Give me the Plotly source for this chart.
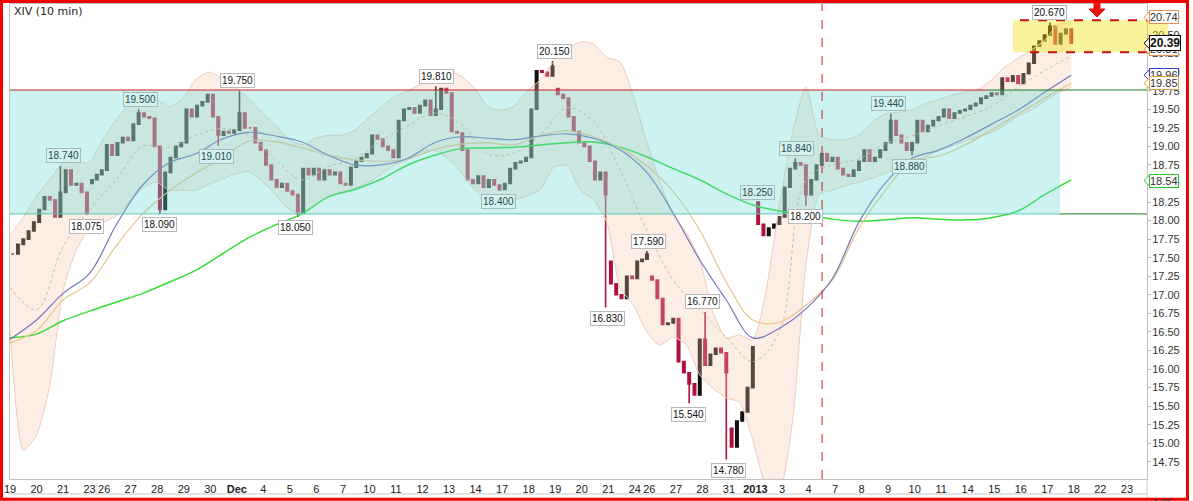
import plotly.graph_objects as go

# ---------------- calendar (x axis) ----------------
day_labels = ["19", "20", "21", "23", "26", "27", "28", "29", "30", "Dec", "4", "5", "6", "7",
              "10", "11", "12", "13", "14", "17", "18", "19", "20", "21", "24", "26", "27", "28",
              "31", "2013", "3", "4", "7", "8", "9", "10", "11", "14", "15", "16", "17", "18",
              "22", "23"]
half_days = [3, 24]          # Nov 23, Dec 24 (short sessions)
HALF_LEN = 0.55
bold_labels = ["Dec", "2013"]

# ---------------- price (10-min bars, sampled closes per session) ----------------
closes = [
    [17.55, 17.68, 17.75, 17.86, 17.98],   # Nov 19
    [18.15, 18.32, 18.28, 18.05, 18.38],   # Nov 20
    [18.68, 18.48, 18.50, 18.38, 18.10],   # Nov 21
    [18.55, 18.62, 18.68],                 # Nov 23
    [19.02, 18.88, 19.05, 19.12, 19.08],   # Nov 26
    [19.30, 19.45, 19.40, 19.38, 19.00],   # Nov 27
    [18.15, 18.65, 18.85, 19.00, 19.05],   # Nov 28
    [19.50, 19.40, 19.55, 19.60, 19.70],   # Nov 29
    [19.40, 19.15, 19.20, 19.18, 19.22],   # Nov 30
    [19.45, 19.25, 19.25, 19.05, 18.95],   # Dec 3
    [18.75, 18.55, 18.45, 18.50, 18.40],   # Dec 4
    [18.35, 18.10, 18.70, 18.62, 18.70],   # Dec 5
    [18.55, 18.68, 18.62, 18.65, 18.50],   # Dec 6
    [18.48, 18.72, 18.80, 18.85, 18.90],   # Dec 7
    [19.15, 19.10, 19.00, 18.95, 18.85],   # Dec 10
    [19.35, 19.50, 19.52, 19.45, 19.55],   # Dec 11
    [19.62, 19.42, 19.50, 19.78, 19.72],   # Dec 12
    [19.20, 19.18, 18.95, 18.55, 18.50],   # Dec 13
    [18.60, 18.45, 18.55, 18.48, 18.42],   # Dec 14
    [18.50, 18.70, 18.78, 18.80, 18.85],   # Dec 17
    [19.50, 20.02, 20.00, 19.95, 20.08],   # Dec 18
    [19.70, 19.65, 19.40, 19.20, 19.05],   # Dec 19
    [19.00, 18.80, 18.55, 18.65, 18.35],   # Dec 20
    [17.15, 17.00, 16.95, 17.25, 17.22],   # Dec 21
    [17.45, 17.48, 17.55],                 # Dec 24
    [17.20, 16.95, 16.60, 16.62, 16.68],   # Dec 26
    [16.10, 15.95, 15.80, 15.65, 16.40],   # Dec 27
    [16.05, 16.20, 16.28, 16.22, 15.95],   # Dec 28
    [14.95, 15.30, 15.42, 15.75, 16.30],   # Dec 31
    [17.95, 17.80, 17.90, 17.95, 18.05],   # Jan 2
    [18.45, 18.70, 18.78, 18.75, 18.35],   # Jan 3
    [18.55, 18.75, 18.90, 18.80, 18.85],   # Jan 4
    [18.70, 18.62, 18.60, 18.68, 18.80],   # Jan 7
    [18.95, 18.80, 18.85, 18.95, 19.05],   # Jan 8
    [19.35, 19.15, 19.05, 18.95, 19.05],   # Jan 9
    [19.35, 19.20, 19.28, 19.35, 19.40],   # Jan 10
    [19.50, 19.38, 19.45, 19.48, 19.50],   # Jan 11
    [19.55, 19.58, 19.65, 19.68, 19.72],   # Jan 14
    [19.70, 19.92, 19.88, 19.95, 19.85],   # Jan 15
    [19.98, 20.12, 20.35, 20.42, 20.50],   # Jan 16
    [20.62, 20.38, 20.52, 20.58, 20.39],   # Jan 17
]
gap_opens = {3: 18.50, 21: 19.78, 23: 17.45, 25: 17.25, 28: 15.20, 29: 18.25}

# ---------------- indicators ----------------
# Bollinger bands, sampled every half session
bb_upper = [17.80, 18.04, 18.33, 18.55, 18.78, 18.78, 18.79, 19.09, 19.36, 19.56,
            19.67, 19.64, 19.54, 19.64, 19.90, 20.00, 19.92, 19.79, 19.65, 19.46,
            19.29, 19.10, 19.02, 19.11, 19.15, 19.15, 19.22, 19.38, 19.53, 19.67,
            19.75, 19.85, 19.96, 20.02, 19.95, 19.79, 19.54, 19.49, 19.54, 19.75,
            19.90, 20.15, 20.30, 20.41, 20.38, 20.20, 20.14, 19.67, 19.06, 18.52,
            18.08, 17.83, 17.47, 16.76, 16.42, 16.46, 16.39, 17.06, 18.21, 19.19,
            19.80, 19.15, 19.09, 19.09, 19.15, 19.32, 19.44, 19.46, 19.49, 19.58,
            19.63, 19.69, 19.73, 19.77, 19.90, 20.07, 20.19, 20.30, 20.43, 20.64,
            20.68]
bb_lower = [16.53, 14.90, 15.11, 15.78, 17.06, 17.60, 17.90, 17.98, 18.06, 18.25,
            18.44, 18.52, 18.41, 18.41, 18.41, 18.49, 18.56, 18.63, 18.66, 18.53,
            18.35, 18.16, 18.09, 18.22, 18.32, 18.39, 18.44, 18.51, 18.63, 18.75,
            18.82, 18.92, 18.95, 18.84, 18.65, 18.42, 18.26, 18.21, 18.28, 18.33,
            18.42, 18.72, 18.74, 18.41, 18.28, 17.97, 17.09, 16.86, 16.50, 16.32,
            16.43, 16.32, 15.92, 15.74, 15.61, 15.55, 15.04, 14.44, 14.37, 15.31,
            17.40, 18.35, 18.41, 18.47, 18.52, 18.57, 18.64, 18.70, 18.79, 18.86,
            18.94, 19.00, 19.07, 19.13, 19.19, 19.29, 19.41, 19.49, 19.61, 19.72,
            19.80]
# one value per session step
bb_mid = [17.10, 16.80, 17.65, 18.15, 18.55, 19.00, 18.98, 19.15, 19.24, 19.15,
          18.82, 18.55, 18.73, 18.83, 19.08, 19.28, 19.45, 19.30, 18.90, 18.91,
          19.16, 19.52, 19.33, 18.68, 17.87, 17.20, 16.80, 16.43, 16.10, 16.50,
          18.55, 18.75, 18.83, 19.04, 19.14, 19.28, 19.40, 19.54, 19.80, 20.02,
          20.22]
ma_blue = [16.40, 16.66, 17.02, 17.29, 17.94, 18.48, 18.78, 18.90, 19.10, 19.19,
           19.14, 19.06, 18.88, 18.75, 18.75, 18.84, 19.05, 19.13, 19.11, 19.09,
           19.14, 19.17, 19.11, 18.95, 18.65, 18.10, 17.47, 16.93, 16.42, 16.55,
           16.81, 17.22, 17.98, 18.51, 18.84, 18.95, 19.11, 19.30, 19.49, 19.73,
           19.96]
ma_tan = [16.35, 16.52, 16.93, 17.16, 17.66, 18.09, 18.40, 18.64, 18.84, 19.07,
          19.06, 18.98, 18.88, 18.82, 18.80, 18.83, 18.96, 19.03, 19.05, 19.02,
          19.15, 19.21, 19.13, 18.98, 18.74, 18.39, 17.87, 17.17, 16.66, 16.63,
          16.86, 17.20, 17.90, 18.41, 18.80, 18.87, 19.02, 19.22, 19.44, 19.65,
          19.85]
ma_green = [16.42, 16.47, 16.65, 16.78, 16.90, 17.02, 17.17, 17.33, 17.55, 17.77,
            17.94, 18.09, 18.32, 18.42, 18.56, 18.75, 18.88, 18.97, 18.98, 18.99,
            19.02, 19.05, 19.06, 18.99, 18.86, 18.70, 18.55, 18.36, 18.21, 18.13,
            18.08, 18.02, 17.99, 18.01, 18.04, 18.02, 18.01, 18.04, 18.13, 18.35,
            18.55]

# swing labels: text, session time, side (+1 above high, -1 below low)
swing_text = ["18.740", "19.500", "19.750", "19.010", "18.075", "18.090", "18.050", "19.810",
              "18.400", "20.150", "16.830", "17.590", "16.770", "15.540", "14.780", "18.250",
              "18.840", "18.200", "19.440", "18.880", "20.670"]
swing_t = [2.00, 4.90, 8.56, 7.80, 2.90, 5.62, 10.78, 16.09, 18.43, 20.54, 22.54, 24.05,
           26.12, 25.59, 27.10, 28.16, 29.66, 29.97, 33.13, 33.92, 39.20]
swing_side = [1, 1, 1, -1, -1, -1, -1, 1, -1, 1, -1, 1, 1, -1, -1, 1, 1, -1, 1, -1, 1]

# levels
zone_top, zone_bot = 19.76, 18.09
zone_end_t = 39.58
red_end_t = 36.83
box_hi, box_lo = 20.70, 20.27
vline_t = 30.61
y_ticks = [14.75 + 0.25 * i for i in range(25)]
tag_text = ["20.31", "20.74", "20.39", "19.96", "19.85", "18.54"]
tag_vals = [20.31, 20.74, 20.39, 19.96, 19.85, 18.54]
tag_colors = ["#e8904a", "#e8904a", "#000000", "#3a3ac8", "#d8a040", "#30c030"]

# ---------------- geometry helpers ----------------
W, H = 1193, 501
PX_L, PX_R, PX_T, PX_B = 10, 1147, 4, 479
Y0, Y1 = 14.518, 20.919
X1 = (PX_R - PX_L) / 26.53


def pxx(x):
    return (x - PX_L) / (PX_R - PX_L)


def pxy(y):
    return (PX_B - y) / (PX_B - PX_T)


def vy(v):
    return (v - Y0) / (Y1 - Y0)


# session starts
starts, lens = [], []
t = 0.0
for i, lab in enumerate(day_labels):
    L = HALF_LEN if i in half_days else 1.0
    starts.append(t)
    lens.append(L)
    t += L

# build candles
xs, op, cl = [], [], []
prev = None
for d, vals in enumerate(closes):
    n = len(vals)
    for i, v in enumerate(vals):
        xs.append(starts[d] + lens[d] * (i + 0.5) / n)
        if i == 0 and d in gap_opens:
            o = gap_opens[d]
        elif prev is None:
            o = v
        else:
            o = prev
        op.append(o)
        cl.append(v)
        prev = v
hi = [max(a, b) for a, b in zip(op, cl)]
lo = [min(a, b) for a, b in zip(op, cl)]
for txt, st, sd in zip(swing_text, swing_t, swing_side):
    val = float(txt)
    idx = min(range(len(xs)), key=lambda k: abs(xs[k] - st))
    if sd > 0:
        hi[idx] = max(hi[idx], val)
    else:
        lo[idx] = min(lo[idx], val)

band_t = [0.5 * k for k in range(len(bb_upper))]
ma_t = [float(k) for k in range(len(ma_blue))]

fig = go.Figure()
fig.add_trace(go.Scatter(x=band_t, y=bb_lower, mode="lines", line=dict(color="#f0cdb8", width=1, shape="spline", smoothing=0.6),
                         hoverinfo="skip", showlegend=False))
fig.add_trace(go.Scatter(x=band_t, y=bb_upper, mode="lines", fill="tonexty", fillcolor="rgba(244,196,168,0.30)",
                         line=dict(color="#f0cdb8", width=1, shape="spline", smoothing=0.6),
                         hoverinfo="skip", showlegend=False))
fig.add_trace(go.Scatter(x=ma_t, y=bb_mid, mode="lines", line=dict(color="#e2b294", width=1, dash="dot", shape="spline"),
                         hoverinfo="skip", showlegend=False))
fig.add_trace(go.Scatter(x=ma_t, y=ma_green, mode="lines", line=dict(color="#33dd33", width=1.5, shape="spline"),
                         hoverinfo="skip", showlegend=False))
fig.add_trace(go.Scatter(x=ma_t, y=ma_tan, mode="lines", line=dict(color="#e8c58a", width=1.2, shape="spline"),
                         hoverinfo="skip", showlegend=False))
fig.add_trace(go.Scatter(x=ma_t, y=ma_blue, mode="lines", line=dict(color="#7474bc", width=1.2, shape="spline"),
                         hoverinfo="skip", showlegend=False))
fig.add_trace(go.Candlestick(x=xs, open=op, high=hi, low=lo, close=cl, whiskerwidth=0,
                             increasing=dict(line=dict(color="#111111", width=1.6), fillcolor="#111111"),
                             decreasing=dict(line=dict(color="#b0103c", width=1.6), fillcolor="#b0103c"),
                             hoverinfo="skip", showlegend=False))

shapes = []
# cyan zone overlay
shapes.append(dict(type="rect", xref="x", yref="y", x0=0, x1=zone_end_t, y0=zone_bot, y1=zone_top,
                   fillcolor="rgba(100,215,215,0.33)", line=dict(width=0), layer="above"))
shapes.append(dict(type="line", xref="x", yref="y", x0=0, x1=zone_end_t, y0=zone_bot, y1=zone_bot,
                   line=dict(color="#5cc8b8", width=1), layer="above"))
shapes.append(dict(type="line", xref="x", yref="y", x0=zone_end_t, x1=X1, y0=zone_bot, y1=zone_bot,
                   line=dict(color="#1f7a1f", width=1), layer="above"))
shapes.append(dict(type="line", xref="x", yref="y", x0=0, x1=red_end_t, y0=zone_top, y1=zone_top,
                   line=dict(color="#cc2020", width=1), layer="above"))
shapes.append(dict(type="line", xref="x", yref="y", x0=red_end_t, x1=X1, y0=zone_top, y1=zone_top,
                   line=dict(color="#1f7a1f", width=1), layer="above"))
# vertical dashed
shapes.append(dict(type="line", xref="x", yref="paper", x0=vline_t, x1=vline_t, y0=0, y1=1,
                   line=dict(color="#cc2020", width=1, dash="dash"), layer="above"))
# yellow box + dashed borders
shapes.append(dict(type="rect", xref="paper", yref="paper", x0=pxx(1013), x1=pxx(1168), y0=vy(box_lo), y1=vy(box_hi),
                   fillcolor="rgba(240,228,20,0.42)", line=dict(width=0), layer="above"))
shapes.append(dict(type="line", xref="paper", yref="paper", x0=pxx(1020), x1=pxx(1148), y0=vy(box_hi), y1=vy(box_hi),
                   line=dict(color="#cc1111", width=2, dash="dash"), layer="above"))
shapes.append(dict(type="line", xref="paper", yref="paper", x0=pxx(1030), x1=pxx(1148), y0=vy(box_lo), y1=vy(box_lo),
                   line=dict(color="#cc1111", width=2, dash="dash"), layer="above"))
# red arrow at top
ap = [(1094, 0), (1100, 0), (1100, 9), (1105, 9), (1097, 17), (1089, 9), (1094, 9)]
path = "M " + " L ".join(f"{pxx(a):.5f},{pxy(b):.5f}" for a, b in ap) + " Z"
shapes.append(dict(type="path", xref="paper", yref="paper", path=path, fillcolor="#ee1111",
                   line=dict(color="#ee1111", width=1), layer="above"))
# lower strip lines
shapes.append(dict(type="line", xref="paper", yref="paper", x0=0, x1=1, y0=pxy(494), y1=pxy(494),
                   line=dict(color="#c8c8c8", width=1)))
shapes.append(dict(type="line", xref="paper", yref="paper", x0=1, x1=1, y0=pxy(479), y1=pxy(501),
                   line=dict(color="#c8c8c8", width=1)))
# tag pointers
for v, col in zip(tag_vals, tag_colors):
    yc = vy(v)
    dy = 5.5 / (PX_B - PX_T)
    p = f"M {pxx(1144):.5f},{yc:.5f} L {pxx(1149.5):.5f},{yc + dy:.5f} L {pxx(1149.5):.5f},{yc - dy:.5f} Z"
    shapes.append(dict(type="path", xref="paper", yref="paper", path=p, fillcolor="white",
                       line=dict(color=col, width=1), layer="above"))
# red frame
shapes.append(dict(type="rect", xref="paper", yref="paper", x0=pxx(1.5), x1=pxx(1187.5), y0=pxy(499.3), y1=pxy(1.4),
                   line=dict(color="#f00000", width=3), fillcolor="rgba(0,0,0,0)", layer="above"))

annotations = []
annotations.append(dict(xref="paper", yref="paper", x=pxx(12), y=pxy(12), xanchor="left", yanchor="middle",
                        text="XIV (10 min)", showarrow=False, font=dict(family="DejaVu Sans", size=11, color="#222")))
for txt, st, sd in zip(swing_text, swing_t, swing_side):
    val = float(txt)
    center = val + 0.14 * sd
    inside = (zone_bot < center < zone_top) and st < zone_end_t
    annotations.append(dict(xref="x", yref="y", x=st, y=val, yshift=10 if sd > 0 else -11,
                            xanchor="center", yanchor="middle", text=txt, showarrow=False,
                            font=dict(family="Liberation Sans", size=10, color="#2a4a4a" if inside else "#111"),
                            bgcolor="#d4f1f1" if inside else "white",
                            bordercolor="#a4bcbc" if inside else "#b8b8b8", borderwidth=1, borderpad=1))
for txt, v, col in zip(tag_text, tag_vals, tag_colors):
    bold = col == "#000000"
    annotations.append(dict(xref="paper", yref="y", x=pxx(1149), y=v, xanchor="left", yanchor="middle",
                            text=f"<b>{txt}</b>" if bold else txt, showarrow=False,
                            font=dict(family="Liberation Sans", size=12 if bold else 11, color="#111" if bold else "#333"),
                            bgcolor="white", bordercolor=col, borderwidth=1, borderpad=0))
annotations.append(dict(xref="paper", yref="paper", x=pxx(1150), y=pxy(495), xanchor="left", yanchor="top",
                        text="4.25", showarrow=False, font=dict(family="Liberation Sans", size=11, color="#333")))

tick_text = [f"<b>{lab}</b>" if lab in bold_labels else lab for lab in day_labels]

fig.update_layout(
    width=W, height=H,
    margin=dict(l=PX_L, r=W - PX_R, t=PX_T, b=H - PX_B),
    paper_bgcolor="white", plot_bgcolor="white",
    showlegend=False, hovermode=False,
    shapes=shapes, annotations=annotations,
    xaxis=dict(range=[0, X1], tickmode="array", tickvals=starts, ticktext=tick_text,
               showgrid=False, zeroline=False, showline=True, linecolor="#c0c0c0", linewidth=1, mirror=True,
               ticks="", ticklabelstandoff=0, tickfont=dict(family="Liberation Sans", size=11, color="#222"),
               rangeslider=dict(visible=False), fixedrange=True),
    yaxis=dict(range=[Y0, Y1], side="right", tickmode="array", tickvals=y_ticks,
               ticktext=[f"{v:.2f}" for v in y_ticks], showgrid=False, zeroline=False,
               showline=True, linecolor="#c0c0c0", linewidth=1, mirror=True,
               ticks="outside", ticklen=3, tickcolor="#b0b0b0", ticklabelstandoff=-1,
               tickfont=dict(family="Liberation Sans", size=11, color="#333"), fixedrange=True),
)

fig.write_html("out.html", config={"displayModeBar": False},
               post_script="document.body.style.margin='0';document.body.style.overflow='hidden';")
